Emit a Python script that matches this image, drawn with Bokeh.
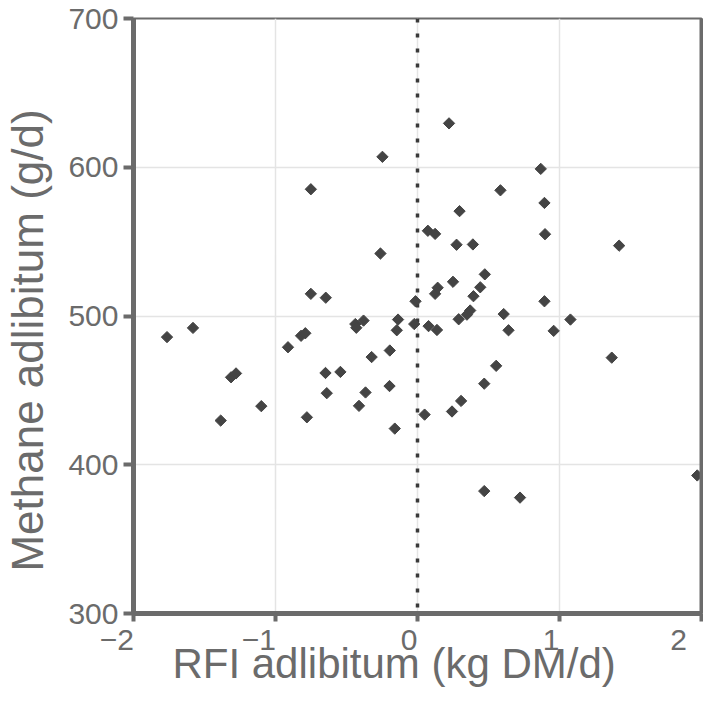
import numpy as np
from bokeh.plotting import figure
from bokeh.models import Range1d, FixedTicker, Span, LinearAxis
from bokeh.embed import file_html
from bokeh.resources import INLINE

# ---- data ----
rfi_adlibitum = [
    -1.764, -1.581, -1.386, -1.313, -1.278, -1.100, -0.912, -0.820, -0.790, -0.779,
    -0.751, -0.751, -0.648, -0.646, -0.639, -0.543, -0.438, -0.431, -0.412, -0.380,
    -0.366, -0.323, -0.261, -0.247, -0.197, -0.195, -0.160, -0.146, -0.137, -0.023,
    -0.014,
    0.050, 0.073, 0.078, 0.124, 0.124, 0.137, 0.142, 0.222, 0.243, 0.250,
    0.275, 0.290, 0.296, 0.307, 0.348, 0.371, 0.390, 0.394, 0.442, 0.470,
    0.470, 0.474, 0.554, 0.584, 0.607, 0.641, 0.722, 0.868, 0.894, 0.894,
    0.898, 0.959, 1.077, 1.368, 1.420, 1.970,
]
methane_adlibitum = [
    485.8, 492.0, 429.7, 458.8, 461.4, 439.4, 479.0, 486.7, 488.4, 431.9,
    585.2, 514.9, 461.7, 512.3, 448.1, 462.4, 494.6, 492.1, 439.6, 496.9,
    448.6, 472.4, 542.0, 607.0, 452.9, 476.8, 424.3, 490.4, 497.6, 494.6,
    509.9,
    433.7, 557.3, 493.2, 555.2, 514.9, 490.6, 519.0, 629.5, 435.8, 523.0,
    547.9, 497.8, 570.5, 442.9, 500.9, 503.7, 548.1, 513.3, 519.3, 454.5,
    382.3, 528.0, 466.5, 584.5, 501.3, 490.4, 377.9, 598.9, 576.0, 509.9,
    555.0, 490.0, 497.6, 472.0, 547.3, 392.8,
]

x_ticks = [-2, -1, 0, 1, 2]
x_tick_labels = ["\u22122", "\u22121", "0", "1", "2"]
y_ticks = [300, 400, 500, 600, 700]
y_tick_labels = ["300", "400", "500", "600", "700"]
x_title = "RFI adlibitum (kg DM/d)"
y_title = "Methane adlibitum (g/d)"
reference_x = 0

GREY = "#6b6b6b"
DARK = "#444444"
FONT = "Liberation Sans"
FSP = "\u2007"  # figure space: used only to shift centred text sideways

p = figure(width=703, height=689,
           x_range=Range1d(-2, 2), y_range=Range1d(300, 700),
           output_backend="svg", toolbar_location=None,
           min_border_left=132, min_border_right=2,
           min_border_top=18, min_border_bottom=72)
p.background_fill_color = "white"
p.border_fill_color = "white"
p.outline_line_color = GREY
p.outline_line_width = 2

# grid
p.xgrid.ticker = FixedTicker(ticks=x_ticks)
p.ygrid.ticker = FixedTicker(ticks=y_ticks)
for g in (p.xgrid[0], p.ygrid[0]):
    g.grid_line_color = "#e4e4e4"
    g.grid_line_width = 1.5

# axes
xa = p.xaxis[0]
ya = p.yaxis[0]
xa.ticker = FixedTicker(ticks=x_ticks)
ya.ticker = FixedTicker(ticks=y_ticks)
# x tick labels sit right-aligned to their ticks in the reference
xa.major_label_overrides = {t: l + FSP * (2 if l.startswith("\u2212") else 1)
                            for t, l in zip(x_ticks, x_tick_labels)}
ya.major_label_overrides = {t: l for t, l in zip(y_ticks, y_tick_labels)}
for ax in (xa, ya):
    ax.axis_line_color = GREY
    ax.axis_line_width = 5
    ax.major_tick_line_color = GREY
    ax.major_tick_line_width = 4
    ax.major_tick_in = 0
    ax.minor_tick_line_color = None
    ax.major_label_text_font = FONT
    ax.major_label_text_font_size = "30px"
    ax.major_label_text_color = GREY
    ax.axis_label_text_font = FONT
    ax.axis_label_text_color = GREY
    ax.axis_label_text_font_style = "normal"
xa.major_tick_out = 8
xa.major_label_standoff = 1
ya.major_tick_out = 10
ya.major_label_standoff = 5

xa.axis_label = x_title + FSP * 2
xa.axis_label_text_font_size = "42px"
xa.axis_label_standoff = -19
ya.axis_label = y_title + FSP * 2
ya.axis_label_text_font_size = "44px"
ya.axis_label_standoff = 13

# thick right border
ra = LinearAxis(ticker=FixedTicker(ticks=[]), axis_line_color=GREY, axis_line_width=4,
                major_tick_line_color=None, minor_tick_line_color=None,
                major_tick_out=0, major_tick_in=0, major_label_standoff=0,
                major_label_text_font_size="0px")
p.add_layout(ra, "right")

# vertical dotted reference line
vline = Span(location=reference_x, dimension="height", line_color="#3a3a3a",
             line_width=3.5, line_dash="4 11", level="underlay")
p.add_layout(vline)

# points
p.scatter(x=rfi_adlibitum, y=methane_adlibitum, marker="square", angle=np.pi / 4,
          size=8, fill_color=DARK, line_color=DARK, line_width=1)

open("out.html", "w").write(file_html(p, INLINE))
